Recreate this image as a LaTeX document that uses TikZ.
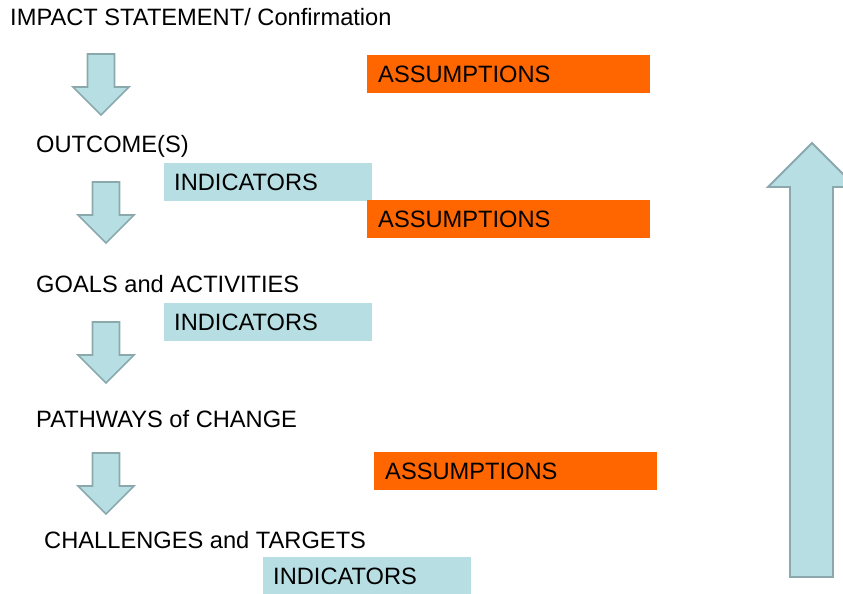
\documentclass[tikz,border=0pt]{standalone}
\usepackage{fontspec}
\setmainfont{Liberation Sans}
\usetikzlibrary{positioning,calc}
\definecolor{paleblue}{HTML}{B7DEE3}
\definecolor{arrowline}{HTML}{8BA9AD}
\definecolor{asmorange}{HTML}{FF6600}

\begin{document}
\begin{tikzpicture}[x=0.03cm,y=-0.03cm,font=\fontsize{20.2}{24}\selectfont]
\tikzset{
  level/.style={anchor=base west, inner sep=0pt},
  asmbox/.style={fill=asmorange, anchor=north west, minimum height=1.14cm, text width=7.83cm, inner xsep=0.33cm, inner ysep=0pt, align=left},
  indbox/.style={fill=paleblue, anchor=north west, minimum height=1.14cm, text width=5.64cm, inner xsep=0.3cm, inner ysep=0pt, align=left},
  blockarrow/.style={draw=arrowline, fill=paleblue, line width=1.3pt, line join=miter}
}
\useasboundingbox (0,0) rectangle (843,594);
% levels of the chain
\node[level] (impact) at (10,26) {IMPACT STATEMENT/ Confirmation};
\node[level] (outcome) at (36,153) {OUTCOME(S)};
\node[level] (goals) at (36,292) {GOALS and ACTIVITIES};
\node[level] (pathways) at (36,427) {PATHWAYS of CHANGE};
\node[level] (challenges) at (44,548) {CHALLENGES and TARGETS};
% assumptions and indicators
\node[asmbox] (asm1) at (367,55) {ASSUMPTIONS};
\node[indbox] (ind1) at (164,163) {INDICATORS};
\node[asmbox] (asm2) at (367,200) {ASSUMPTIONS};
\node[indbox] (ind2) at (164,303) {INDICATORS};
\node[asmbox] (asm3) at (374,452) {ASSUMPTIONS};
\node[indbox] (ind3) at (263,557) {INDICATORS};
% down arrows between the levels
\foreach \cx/\ty in {101/54, 106/182, 106/322, 106/453}
  \draw[blockarrow] (\cx-13.5,\ty) -- (\cx+13.5,\ty) -- (\cx+13.5,\ty+33) -- (\cx+28,\ty+33)
    -- (\cx,\ty+61) -- (\cx-28,\ty+33) -- (\cx-13.5,\ty+33) -- cycle;
% big upward arrow
\draw[blockarrow, line width=1.6pt] (790,577) -- (833,577) -- (833,187) -- (856,187)
  -- (812,143) -- (768,187) -- (790,187) -- cycle;
\end{tikzpicture}
\end{document}
